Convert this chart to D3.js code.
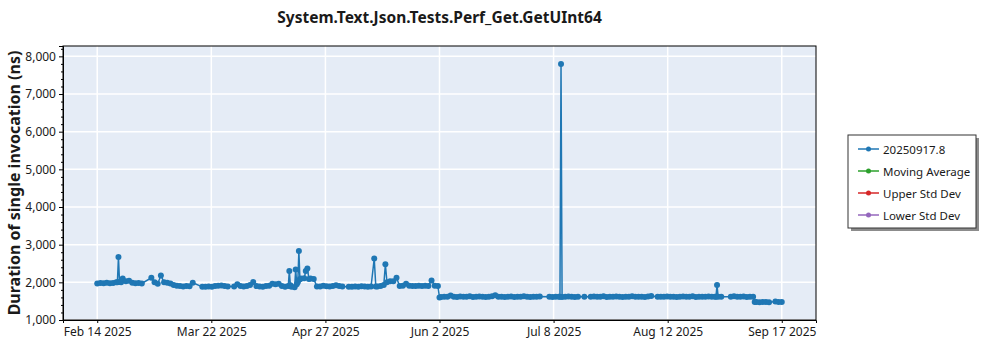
<!DOCTYPE html>
<html>
<head>
<meta charset="utf-8">
<script src="https://cdn.jsdelivr.net/npm/d3@7"></script>
<style>
    body { margin: 0; background: #fff; }
    svg text { font-family: "Segoe UI", "Noto Sans", sans-serif; fill: #1a1a1a; }
</style>
</head>
<body>
<svg id="chart" width="1000" height="350"></svg>
<script>
    "use strict";

    var chartTitle = "System.Text.Json.Tests.Perf_Get.GetUInt64";
    var yLabel = "Duration of single invocation (ns)";
    var seriesNames = ["20250917.8", "Moving Average", "Upper Std Dev", "Lower Std Dev"];
    var seriesColors = ["#1f77b4", "#2ca02c", "#d62728", "#9467bd"];

    /* runs are logged at 18:00 UTC; a day may hold several runs, null = no run that day */
    var runHour = 18;
    var feb2025 = [1970, 1980, 1975, 1990, 1975, 1985, [2000, 2000, 2670], [2010, 2000], 2100, 2030, 2040, 1990, 1975, 1980, 1970];
    var mar2025 = [null, null, 2120, 2000, 1960, 2180, 2000, 1990, 1970, 1930, 1910, 1900, 1890, 1900, 1895, 1990,
        null, null, 1880, 1880, 1890, 1885, 1900, 1910, 1915, 1905, 1890, null, 1890, 1950, 1900];
    var apr2025 = [1890, 1900, 1930, 2010, 1900, 1890, 1880, 1900, 1910, 1960, 1950, 1960, 1900, 1880,
        [1900, 2300, 1920], 1880, [1870, 2340, 1950], [2000, 2830, 2080], 2100, [2110, 2300], [2370, 2090], 2100, 2090,
        1890, 1890, 1910, 1895, 1890, 1900, 1920];
    var may2025 = [1900, 1890, null, 1880, 1885, 1890, 1880, 1895, 1890, 1885, 1890, [2630, 1890], 1890, 1900,
        [1930, 2480], 2000, 2030, 2030, 2120, 1900, 1910, 1960, 1910, 1900, 1905, 1910, 1900, 1910, 1905, 2050, 1910];
    var jun2025 = [[1900, 1600], 1610, 1620, 1615, 1650, 1620, 1610, 1625, 1615, 1620, 1630, 1610, 1620, 1625, 1615,
        1610, 1620, 1630, 1660, 1620, 1615, 1610, 1620, 1625, 1610, 1620, 1615, 1630, 1620, 1610];
    var jul2025 = [1615, 1620, 1625, null, null, 1620, 1610, 1615, [1620, 1615, 7800], 1610, 1620, 1625, 1615, 1610,
        1620, null, 1615, null, 1620, 1625, 1615, 1620, 1630, 1610, 1620, 1615, 1625, 1620, 1610, 1615, 1620];
    var aug2025 = [1630, 1620, 1615, 1620, 1610, 1625, 1640, null, 1620, 1615, 1620, 1625, 1620, 1615, 1610, 1620,
        1625, 1615, 1620, 1630, 1610, 1620, 1615, 1620, 1625, 1615, [1620, 1620, 1930], 1615, 1620, null, null];
    var sep2025 = [1620, 1630, 1615, 1620, 1625, 1610, 1620, [1615, 1475], 1480, 1470, 1475, 1480, 1470, null, 1490, 1480, 1475];

    /* [month index, first day, values] */
    var months = [
        [1, 14, feb2025], [2, 1, mar2025], [3, 1, apr2025], [4, 1, may2025],
        [5, 1, jun2025], [6, 1, jul2025], [7, 1, aug2025], [8, 1, sep2025]
    ];

    var dayMs = 86400000;
    var runs = [];
    months.forEach(function (m) {
        m[2].forEach(function (v, i) {
            if (v === null) return;
            var vals = Array.isArray(v) ? v : [v];
            var base = Date.UTC(2025, m[0], m[1] + i, runHour);
            vals.forEach(function (val, j) {
                runs.push({ date: new Date(base + j * dayMs / vals.length), value: val });
            });
        });
    });

    var width = 1000, height = 350;
    var margin = { top: 46, right: 184, bottom: 30, left: 63 };
    var plotW = width - margin.left - margin.right;
    var plotH = height - margin.top - margin.bottom;

    var svg = d3.select("#chart");

    var extent = d3.extent(runs, function (d) { return d.date; });
    var span = extent[1] - extent[0];
    var x = d3.scaleUtc()
        .domain([new Date(+extent[0] - span * 0.05), new Date(+extent[1] + span * 0.05)])
        .range([0, plotW]);
    var y = d3.scaleLinear().domain([1000, 8275]).range([plotH, 0]);

    /* 6 equal steps across the runs, like the original tool does */
    var xTicks = d3.range(7).map(function (i) { return new Date(+extent[0] + i * span / 6); });
    var yTicks = y.ticks(8);
    var yMinor = y.ticks(40);

    var g = svg.append("g").attr("transform", "translate(" + margin.left + "," + margin.top + ")");

    g.append("rect").attr("width", plotW).attr("height", plotH).attr("fill", "#e5ecf6");

    g.append("g").selectAll("line").data(xTicks).join("line")
        .attr("x1", function (d) { return x(d); }).attr("x2", function (d) { return x(d); })
        .attr("y1", 0).attr("y2", plotH)
        .attr("stroke", "#fff").attr("stroke-width", 1.5);
    g.append("g").selectAll("line").data(yTicks).join("line")
        .attr("x1", 0).attr("x2", plotW)
        .attr("y1", function (d) { return y(d); }).attr("y2", function (d) { return y(d); })
        .attr("stroke", "#fff").attr("stroke-width", 1.5);

    var line = d3.line()
        .x(function (d) { return x(d.date); })
        .y(function (d) { return y(d.value); });

    g.append("path").datum(runs)
        .attr("d", line)
        .attr("fill", "none")
        .attr("stroke", seriesColors[0])
        .attr("stroke-width", 1.5);

    g.append("g").selectAll("circle").data(runs).join("circle")
        .attr("cx", function (d) { return x(d.date); })
        .attr("cy", function (d) { return y(d.value); })
        .attr("r", 3)
        .attr("fill", seriesColors[0]);

    /* axes */
    var yAxis = g.append("g")
        .call(d3.axisLeft(y).tickValues(yTicks).tickFormat(d3.format(",")).tickSize(4).tickPadding(3));
    g.append("g")
        .call(d3.axisLeft(y).tickValues(yMinor.filter(function (v) { return v % 1000; })).tickFormat("").tickSize(2))
        .select(".domain").remove();
    var xAxis = g.append("g").attr("transform", "translate(0," + plotH + ")")
        .call(d3.axisBottom(x).tickValues(xTicks).tickFormat(d3.utcFormat("%b %-d %Y")).tickSize(3).tickPadding(4));
    [yAxis, xAxis].forEach(function (a) {
        a.selectAll("text").attr("font-size", 12).attr("font-family", null);
        a.selectAll("line, path").attr("stroke", "#000");
    });
    g.selectAll(".tick line").attr("stroke", "#000");

    g.append("rect").attr("width", plotW).attr("height", plotH)
        .attr("fill", "none").attr("stroke", "#000").attr("stroke-width", 1);

    /* titles */
    svg.append("text")
        .attr("x", margin.left + plotW / 2).attr("y", 23)
        .attr("text-anchor", "middle")
        .attr("font-size", 15.5).attr("font-weight", "bold")
        .text(chartTitle);

    svg.append("text")
        .attr("transform", "translate(20," + (margin.top + plotH / 2) + ") rotate(-90)")
        .attr("text-anchor", "middle")
        .attr("font-size", 16).attr("font-weight", "bold")
        .text(yLabel);

    /* legend */
    var legend = svg.append("g").attr("transform", "translate(848,135)");
    legend.append("rect").attr("x", 3).attr("y", 3).attr("width", 128).attr("height", 93).attr("fill", "#8c8c8c");
    legend.append("rect").attr("width", 128).attr("height", 93).attr("fill", "#fff").attr("stroke", "#333");
    var items = legend.selectAll("g.item").data(seriesNames).join("g")
        .attr("class", "item")
        .attr("transform", function (d, i) { return "translate(10," + (14 + i * 22) + ")"; });
    items.append("line").attr("x1", 0).attr("x2", 21).attr("y1", 0).attr("y2", 0)
        .attr("stroke", function (d, i) { return seriesColors[i]; }).attr("stroke-width", 1.5);
    items.append("circle").attr("cx", 10.5).attr("cy", 0).attr("r", 2.5)
        .attr("fill", function (d, i) { return seriesColors[i]; });
    items.append("text").attr("x", 25).attr("y", 4.5).attr("font-size", 11.5)
        .text(function (d) { return d; });
</script>
</body>
</html>
